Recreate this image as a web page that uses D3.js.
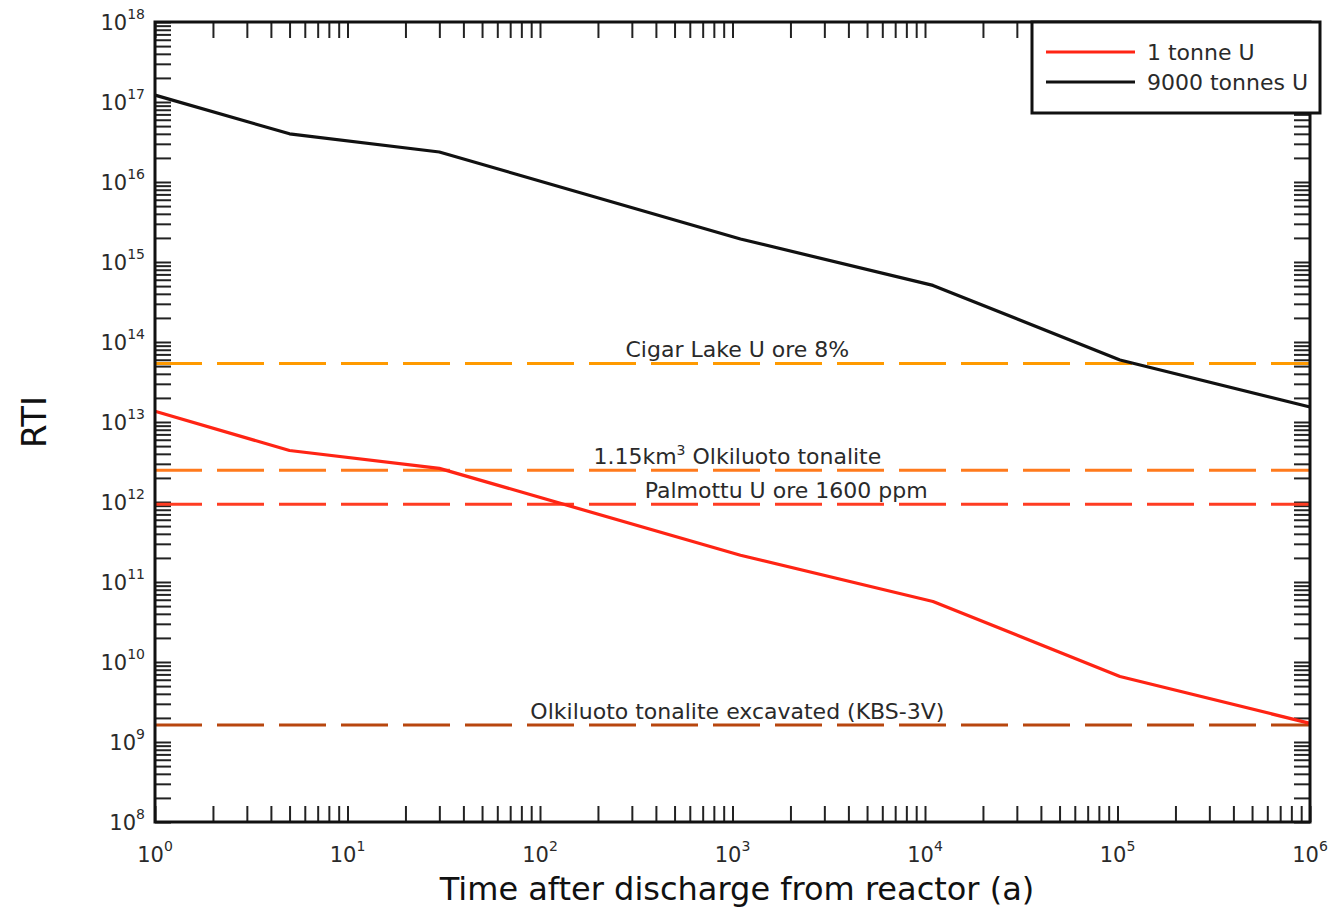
<!DOCTYPE html>
<html>
<head>
<meta charset="utf-8">
<script src="https://cdn.jsdelivr.net/npm/d3@7"></script>
<style>
  html, body { margin: 0; padding: 0; background: #fff; }
  svg { display: block; font-family: "DejaVu Sans", Verdana, sans-serif; }
</style>
</head>
<body>
<svg id="chart" width="1340" height="911"></svg>
<script>
// ---- data ----
const years = [1, 5, 30, 1.1e3, 1.1e4, 1.03e5, 1e6];
const rti9000 = [1.22e17, 4.0e16, 2.37e16, 1.94e15, 5.1e14, 5.96e13, 1.54e13];
const rti1 = [1.36e13, 4.4e12, 2.63e12, 2.16e11, 5.7e10, 6.6e9, 1.71e9];
const seriesNames = ["1 tonne U", "9000 tonnes U"];

const refNames = ["Cigar Lake U ore 8%", "1.15km3 Olkiluoto tonalite", "Palmottu U ore 1600 ppm", "Olkiluoto tonalite excavated (KBS-3V)"];
const refValues = [5.4e13, 2.5e12, 9.4e11, 1.63e9];

const xTickExps = [0, 1, 2, 3, 4, 5, 6];
const yTickExps = [8, 9, 10, 11, 12, 13, 14, 15, 16, 17, 18];

// ---- styles ----
const seriesColors = ["#ff2414", "#111111"];
const refColors = ["#ff9a00", "#ff7a1c", "#ff3c22", "#b8460e"];
const refLabelCenter = [1e3 * 1.06, 1e3 * 1.06, 1e3 * 1.9, 1e3 * 1.06];

const svg = d3.select("#chart");
const L = 155, R = 1310, T = 22, B = 822;
const x = d3.scaleLog().domain([1, 1e6]).range([L, R]);
const y = d3.scaleLog().domain([1e8, 1e18]).range([B, T]);

const xMinor = [];
for (let e = 0; e < 6; e++) for (let m = 1; m <= 9; m++) xMinor.push(m * Math.pow(10, e));
xMinor.push(1e6);
const yMinor = [];
for (let e = 8; e < 18; e++) for (let m = 1; m <= 9; m++) yMinor.push(m * Math.pow(10, e));
yMinor.push(1e18);

const tickLen = 16;
function styleAxis(g) {
  g.select(".domain").remove();
  g.selectAll(".tick line").attr("stroke", "#222").attr("stroke-width", 2);
  g.selectAll(".tick text").remove();
}
svg.append("g").attr("transform", `translate(0,${B})`)
  .call(d3.axisBottom(x).tickValues(xMinor).tickSize(-tickLen).tickFormat(""))
  .call(styleAxis);
svg.append("g").attr("transform", `translate(0,${T})`)
  .call(d3.axisTop(x).tickValues(xMinor).tickSize(-tickLen).tickFormat(""))
  .call(styleAxis);
svg.append("g").attr("transform", `translate(${L},0)`)
  .call(d3.axisLeft(y).tickValues(yMinor).tickSize(-tickLen).tickFormat(""))
  .call(styleAxis);
svg.append("g").attr("transform", `translate(${R},0)`)
  .call(d3.axisRight(y).tickValues(yMinor).tickSize(-tickLen).tickFormat(""))
  .call(styleAxis);

// reference dashed lines
const refG = svg.append("g");
refValues.forEach((v, i) => {
  refG.append("line")
    .attr("x1", L).attr("x2", R)
    .attr("y1", y(v)).attr("y2", y(v))
    .attr("stroke", refColors[i]).attr("stroke-width", 3)
    .attr("stroke-dasharray", "47,15");
});

// reference labels
const labG = svg.append("g").attr("font-size", 22).attr("fill", "#2a2a2a").attr("text-anchor", "middle");
refNames.forEach((n, i) => {
  const t = labG.append("text")
    .attr("x", x(refLabelCenter[i]))
    .attr("y", y(refValues[i]) - 6);
  if (n.indexOf("km3") >= 0) {
    const parts = n.split("km3");
    t.append("tspan").text(parts[0] + "km");
    t.append("tspan").attr("dy", -9).attr("font-size", 14).text("3");
    t.append("tspan").attr("dy", 9).text(parts[1]);
  } else {
    t.text(n);
  }
});

// data lines
const line = d3.line().x(d => x(d[0])).y(d => y(d[1]));
[rti1, rti9000].forEach((vals, i) => {
  svg.append("path")
    .datum(years.map((yr, j) => [yr, vals[j]]))
    .attr("d", line)
    .attr("fill", "none")
    .attr("stroke", seriesColors[i])
    .attr("stroke-width", 3.2)
    .attr("stroke-linejoin", "round");
});

// frame
svg.append("rect").attr("x", L).attr("y", T).attr("width", R - L).attr("height", B - T)
  .attr("fill", "none").attr("stroke", "#111").attr("stroke-width", 3);

// tick labels
const tl = svg.append("g").attr("fill", "#2a2a2a");
xTickExps.forEach(e => {
  const t = tl.append("text").attr("x", x(Math.pow(10, e))).attr("y", 862)
    .attr("text-anchor", "middle").attr("font-size", 21);
  t.append("tspan").text("10");
  t.append("tspan").attr("dy", -11).attr("font-size", 14).text(e);
});
yTickExps.forEach(e => {
  const t = tl.append("text").attr("x", 145).attr("y", y(Math.pow(10, e)) + 8)
    .attr("text-anchor", "end").attr("font-size", 21);
  t.append("tspan").text("10");
  t.append("tspan").attr("dy", -11).attr("font-size", 14).text(e);
});

// axis titles
svg.append("text").attr("x", 737).attr("y", 900).attr("text-anchor", "middle")
  .attr("font-size", 32).attr("fill", "#111").text("Time after discharge from reactor (a)");
svg.append("text").attr("transform", "translate(46,422) rotate(-90)").attr("text-anchor", "middle")
  .attr("font-size", 34).attr("fill", "#111").text("RTI");

// legend
const lg = svg.append("g");
lg.append("rect").attr("x", 1032).attr("y", 22).attr("width", 288).attr("height", 91)
  .attr("fill", "#fff").attr("stroke", "#111").attr("stroke-width", 3);
seriesNames.forEach((n, i) => {
  const yy = 52 + i * 30;
  lg.append("line").attr("x1", 1046).attr("x2", 1135).attr("y1", yy).attr("y2", yy)
    .attr("stroke", seriesColors[i]).attr("stroke-width", 3);
  lg.append("text").attr("x", 1147).attr("y", yy + 8).attr("font-size", 22)
    .attr("fill", "#2a2a2a").text(n);
});
</script>
</body>
</html>
